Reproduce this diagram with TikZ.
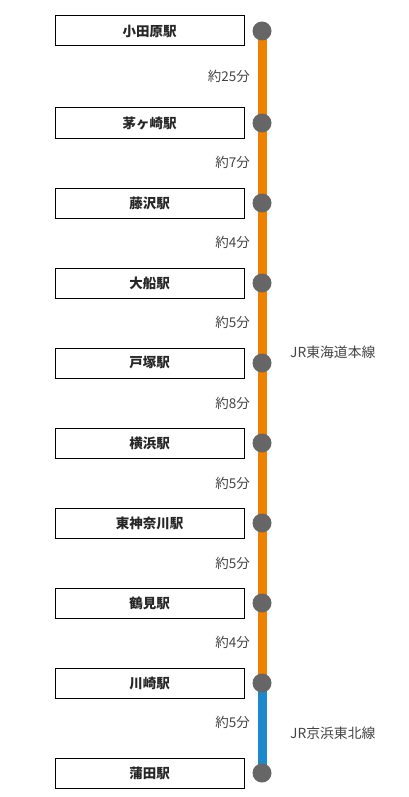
\documentclass[tikz,border=0pt]{standalone}
\usepackage{fontspec}
\setmainfont{Noto Sans CJK JP}
\definecolor{lineorange}{HTML}{EE8200}
\definecolor{lineblue}{HTML}{1E88CC}
\definecolor{dotgray}{HTML}{666666}
\definecolor{txtgray}{HTML}{444444}
\tikzset{
  stationbox/.style={draw=black, line width=1pt, fill=white, minimum width=189pt, minimum height=30pt, inner sep=0pt, font=\fontsize{13.5}{15}\selectfont\bfseries, text=black!85},
  stopdot/.style={circle, fill=dotgray, minimum size=19pt, inner sep=0pt},
  timelabel/.style={anchor=east, inner sep=0pt, font=\fontsize{13.5}{15}\selectfont, text=txtgray},
  linelabel/.style={anchor=west, inner sep=0pt, font=\fontsize{13.8}{15}\selectfont, text=txtgray},
  orangeseg/.style={line width=9pt, draw=lineorange},
  blueseg/.style={line width=9pt, draw=lineblue}
}
\begin{document}
\begin{tikzpicture}[x=1pt, y=-1pt]
\useasboundingbox (0,0) rectangle (408,797);
% stations
\foreach \name/\yy/\lab in {s1/31/小田原駅, s2/123/茅ヶ崎駅, s3/203/藤沢駅, s4/283/大船駅, s5/363/戸塚駅, s6/443/横浜駅, s7/523/東神奈川駅, s8/603/鶴見駅, s9/683/川崎駅, s10/773/蒲田駅}{
  \node[stationbox] (b\name) at (149.5,\yy) {\lab};
  \coordinate (\name) at (262,\yy);
}
% line segments
\draw[orangeseg] (s1) -- (s2);
\draw[orangeseg] (s2) -- (s3);
\draw[orangeseg] (s3) -- (s4);
\draw[orangeseg] (s4) -- (s5);
\draw[orangeseg] (s5) -- (s6);
\draw[orangeseg] (s6) -- (s7);
\draw[orangeseg] (s7) -- (s8);
\draw[orangeseg] (s8) -- (s9);
\draw[blueseg] (s9) -- (s10);
% dots
\foreach \name in {s1,s2,s3,s4,s5,s6,s7,s8,s9,s10}{
  \node[stopdot] (d\name) at (\name) {};
}
% times
\node[timelabel] (t1) at (250,76) {約25分};
\node[timelabel] (t2) at (250,162) {約7分};
\node[timelabel] (t3) at (250,242) {約4分};
\node[timelabel] (t4) at (250,322) {約5分};
\node[timelabel] (t5) at (250,403) {約8分};
\node[timelabel] (t6) at (250,483) {約5分};
\node[timelabel] (t7) at (250,563) {約5分};
\node[timelabel] (t8) at (250,642) {約4分};
\node[timelabel] (t9) at (250,722) {約5分};
% line names
\node[linelabel] (l1) at (290,352) {JR東海道本線};
\node[linelabel] (l2) at (290,733) {JR京浜東北線};
\end{tikzpicture}
\end{document}
